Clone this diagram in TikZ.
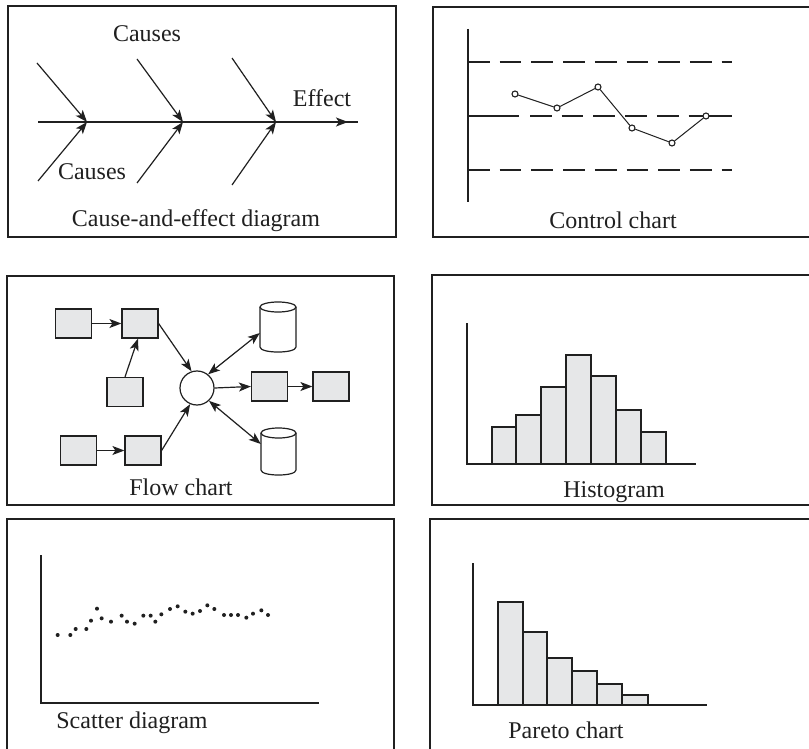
\documentclass[tikz,border=0pt]{standalone}
\usepackage{fontspec}
\setmainfont{Liberation Serif}
\usetikzlibrary{arrows.meta,calc}
\definecolor{barfill}{HTML}{E6E7E8}
\definecolor{inkc}{HTML}{202020}
\begin{document}
\begin{tikzpicture}[x=1pt,y=-1pt,
  panel/.style={draw=inkc,line width=1.4pt},
  ln/.style={draw=inkc,line width=1.2pt},
  arr/.style={ln,-{Stealth[length=12pt,width=9pt,inset=3pt]}},
  darr/.style={ln,{Stealth[length=12pt,width=9pt,inset=3pt]}-{Stealth[length=12pt,width=9pt,inset=3pt]}},
  lbl/.style={font=\fontsize{24}{28}\selectfont,inner sep=0pt,anchor=base,text=inkc},
  cpt/.style={circle,draw=inkc,fill=white,inner sep=0pt,minimum size=6pt,line width=1.1pt},
  fbox/.style={draw=inkc,fill=barfill,line width=1.2pt,inner sep=0pt,minimum width=36pt,minimum height=29pt},
  bar/.style={draw=inkc,fill=barfill,line width=1.2pt},
  dsh/.style={ln,dash pattern=on 21.7pt off 10pt},
  dot/.style={fill=inkc}
]
\useasboundingbox (0,0) rectangle (809,749);
\fill[white] (0,0) rectangle (809,749);

% ---------- panels ----------
\draw[panel] (8,6) rectangle (396,237);
\draw[panel] (433,7) rectangle (812,237);
\draw[panel] (7,276) rectangle (394,505);
\draw[panel] (432,275) rectangle (812,505);
\draw[panel] (7,519) rectangle (394,753);
\draw[panel] (430,519) rectangle (812,753);

% ---------- cause-and-effect ----------
\coordinate (s0) at (38,122);
\coordinate (s1) at (358,122);
\coordinate (j1) at (87,122);
\coordinate (j2) at (183,122);
\coordinate (j3) at (276,122);
\coordinate (u1) at (37,63);
\coordinate (u2) at (137,59);
\coordinate (u3) at (232,58);
\coordinate (l1) at (38,181);
\coordinate (l2) at (137,183);
\coordinate (l3) at (232,185);
\coordinate (e0) at (300,122);
\coordinate (e1) at (348,122);
\draw[ln] (s0) -- (s1);
\draw[arr] (u1) -- (j1);
\draw[arr] (u2) -- (j2);
\draw[arr] (u3) -- (j3);
\draw[arr] (l1) -- (j1);
\draw[arr] (l2) -- (j2);
\draw[arr] (l3) -- (j3);
\draw[arr] (e0) -- (e1);
\node[lbl] (causesU) at (147,41.5) {Causes};
\node[lbl] (causesL) at (92,180) {Causes};
\node[lbl] (effect) at (322,107) {Effect};
\node[lbl] (t1) at (196,226) {Cause-and-effect diagram};

% ---------- control chart ----------
\coordinate (ax0) at (468,29);
\coordinate (ax1) at (468,202);
\draw[ln] (ax0) -- (ax1);
\coordinate (ucl0) at (468,62);
\coordinate (ucl1) at (732,62);
\coordinate (lcl0) at (468,170);
\coordinate (lcl1) at (732,170);
\draw[dsh] (ucl0) -- (ucl1);
\draw[dsh] (lcl0) -- (lcl1);
\coordinate (cl0) at (468,116);
\coordinate (cl1) at (519,116);
\coordinate (cl2) at (530,116);
\coordinate (cl3) at (700,116);
\coordinate (cl4) at (732,116);
\draw[ln] (cl0) -- (cl1);
\draw[dsh] (cl2) -- (cl3);
\draw[ln] (cl3) -- (cl4);
\node[cpt] (p1) at (515,94) {};
\node[cpt] (p2) at (557,108) {};
\node[cpt] (p3) at (598,87) {};
\node[cpt] (p4) at (632,128) {};
\node[cpt] (p5) at (672,143) {};
\node[cpt] (p6) at (706,116) {};
\draw[ln,line width=1pt] (p1) -- (p2) -- (p3) -- (p4) -- (p5) -- (p6);
\node[lbl] (t2) at (613,228) {Control chart};

% ---------- flow chart ----------
\node[fbox] (A) at (73.5,323.5) {};
\node[fbox] (B) at (140,323.5) {};
\node[fbox] (C) at (125,392) {};
\node[fbox] (D) at (78.5,450.5) {};
\node[fbox] (E) at (143,450.5) {};
\node[fbox] (F) at (269.5,386.5) {};
\node[fbox] (G) at (331,386.5) {};
\node[circle,draw=inkc,fill=white,line width=1.2pt,minimum size=34pt,inner sep=0pt] (O) at (197,388) {};
\node[inner sep=0pt,minimum width=36pt,minimum height=50pt] (cy1) at (278,327) {};
\node[inner sep=0pt,minimum width=35pt,minimum height=47pt] (cy2) at (278.5,451.5) {};
% cylinders
\draw[ln,fill=white] (260,307) -- (260,347) .. controls (260,353.7) and (296,353.7) .. (296,347) -- (296,307);
\draw[ln,fill=white] (278,307) ellipse[x radius=18,y radius=5];
\draw[ln,fill=white] (261,433) -- (261,470) .. controls (261,476.7) and (296,476.7) .. (296,470) -- (296,433);
\draw[ln,fill=white] (278.5,433) ellipse[x radius=17.5,y radius=5];
\draw[arr] (A) -- (B);
\draw[arr] (C.north) -- ([xshift=-2pt]B.south);
\draw[arr] (B.east) -- (O.108);
\draw[arr] (D) -- (E);
\draw[arr] (E.east) -- (O.247);
\draw[darr] (O.51) -- ([yshift=-6pt]cy1.west);
\draw[arr] (O.east) -- (F.west);
\draw[arr] (F) -- (G);
\draw[darr] (O.-47) -- ([yshift=7.5pt]cy2.west);
\node[lbl] (t3) at (181,495) {Flow chart};

% ---------- histogram ----------
\coordinate (h0) at (467,323);
\coordinate (h1) at (467,464);
\coordinate (h2) at (696,464);
\draw[bar] (492,427) rectangle (516,464);
\draw[bar] (516,415) rectangle (541,464);
\draw[bar] (541,387) rectangle (566,464);
\draw[bar] (566,355) rectangle (591,464);
\draw[bar] (591,376) rectangle (616,464);
\draw[bar] (616,410) rectangle (641,464);
\draw[bar] (641,432) rectangle (666,464);
\draw[ln] (h0) -- (h1) -- (h2);
\node[lbl] (t4) at (614,497) {Histogram};

% ---------- scatter ----------
\coordinate (sc0) at (41,555);
\coordinate (sc1) at (41,703);
\coordinate (sc2) at (319,703);
\draw[ln] (sc0) -- (sc1) -- (sc2);
\foreach \x/\y in {173/390,211/390,227/372,259/372,273/347,291/311,305/340,333/350,365/332,381/350,404/356,430/332,452/332,466/350,484/328,510/312,533/304,556/320,578/326,600/318,622/301,643/312,672/330,693/330,714/330,739/338,759/326,784/316,804/330}
  \fill[dot] ({\x/3},{505+\y/3}) circle[radius=2pt];
\node[lbl] (t5) at (132,728) {Scatter diagram};

% ---------- pareto ----------
\coordinate (pa0) at (473,563);
\coordinate (pa1) at (473,705);
\coordinate (pa2) at (707,705);
\draw[bar] (498,602) rectangle (523,705);
\draw[bar] (523,632) rectangle (547,705);
\draw[bar] (547,658) rectangle (572,705);
\draw[bar] (572,671) rectangle (597,705);
\draw[bar] (597,684) rectangle (622,705);
\draw[bar] (622,695) rectangle (648,705);
\draw[ln] (pa0) -- (pa1) -- (pa2);
\node[lbl] (t6) at (566,738) {Pareto chart};
\end{tikzpicture}
\end{document}
